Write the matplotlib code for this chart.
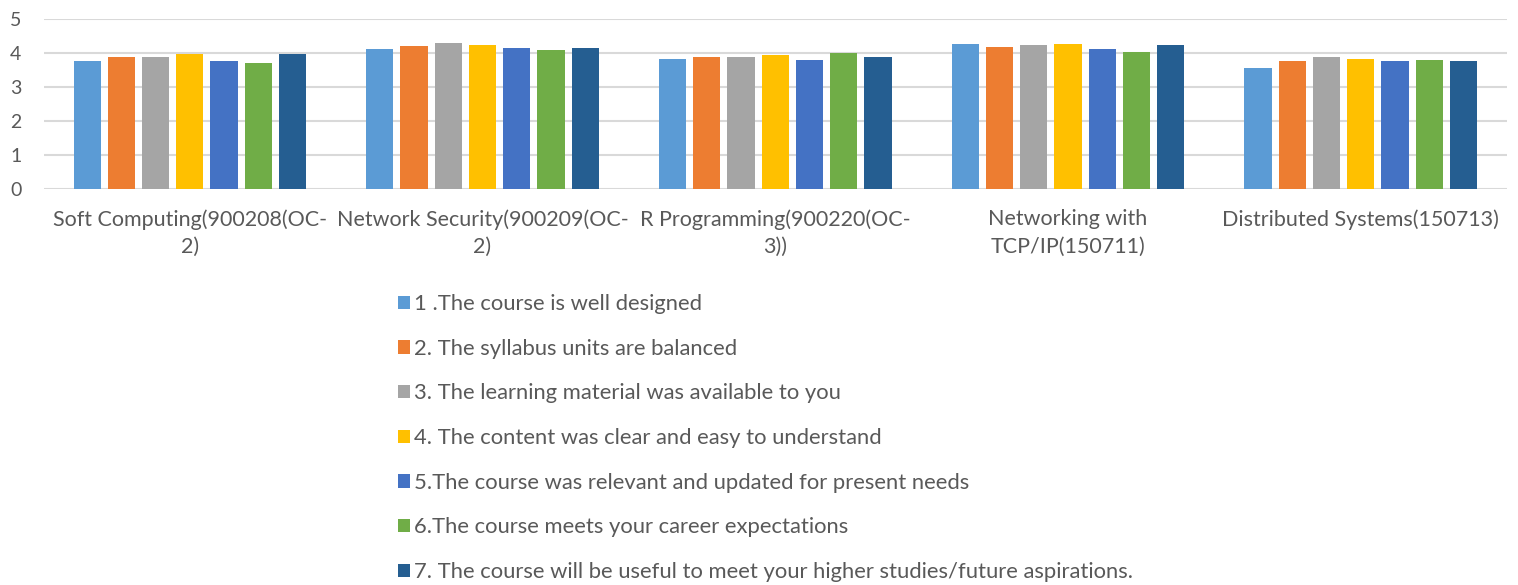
import matplotlib
matplotlib.use("Agg")
import matplotlib.pyplot as plt
import numpy as np

categories = ["Soft Computing(900208(OC-\n2)", "Network Security(900209(OC-\n2)",
              "R Programming(900220(OC-\n3))", "Networking with\nTCP/IP(150711)",
              "Distributed Systems(150713)"]
series_names = ["1 .The course is well designed",
                "2. The syllabus units are balanced",
                "3. The learning material was available to you",
                "4. The content was clear and easy to understand",
                "5.The course was relevant and updated for present needs",
                "6.The course meets your career expectations",
                "7. The course will be useful to meet your higher studies/future aspirations."]
s1 = [3.77, 4.11, 3.83, 4.26, 3.54]
s2 = [3.87, 4.20, 3.88, 4.16, 3.75]
s3 = [3.87, 4.30, 3.88, 4.24, 3.87]
s4 = [3.96, 4.22, 3.94, 4.26, 3.82]
s5 = [3.77, 4.15, 3.78, 4.11, 3.77]
s6 = [3.70, 4.08, 4.00, 4.04, 3.80]
s7 = [3.96, 4.13, 3.88, 4.24, 3.77]
series = [s1, s2, s3, s4, s5, s6, s7]
colors = ["#5B9BD5", "#ED7D31", "#A5A5A5", "#FFC000", "#4472C4", "#70AD47", "#255E91"]

plt.rcParams['font.family'] = ['Lato', 'DejaVu Sans']
fig = plt.figure(figsize=(15.18, 5.85), dpi=100)
ax = fig.add_axes([43.5/1518, 1-188.5/585, (1507-43.5)/1518, (188.5-19)/585])

x = np.arange(len(categories))
slot = 0.117
bw = 0.093
handles = []
for k, (vals, c) in enumerate(zip(series, colors)):
    h = ax.bar(x + (k - 3) * slot, vals, width=bw, color=c, zorder=3, label=series_names[k])
    handles.append(h)

ax.set_xlim(-0.5, len(categories) - 0.5)
ax.set_ylim(0, 5)
ax.set_yticks([0, 1, 2, 3, 4, 5])
ax.yaxis.grid(True, color="#D9D9D9", linewidth=1.5, zorder=0)
for s in ax.spines.values():
    s.set_visible(False)
ax.tick_params(axis='both', length=0, colors="#595959")
ax.tick_params(axis='y', labelsize=14, pad=16)
ax.set_xticks(x)
ax.set_xticklabels(categories, fontsize=15.5, color="#595959", linespacing=1.45)
ax.tick_params(axis='x', pad=15)

leg = fig.legend(handles=handles, labels=series_names, loc='upper left',
                 bbox_to_anchor=(387/1518, 1-283/585), frameon=False,
                 fontsize=15.8, labelcolor="#595959", handlelength=0.55, handleheight=0.55,
                 handletextpad=0.2, labelspacing=1.125, borderpad=0)

fig.savefig("out.png", dpi=100)
